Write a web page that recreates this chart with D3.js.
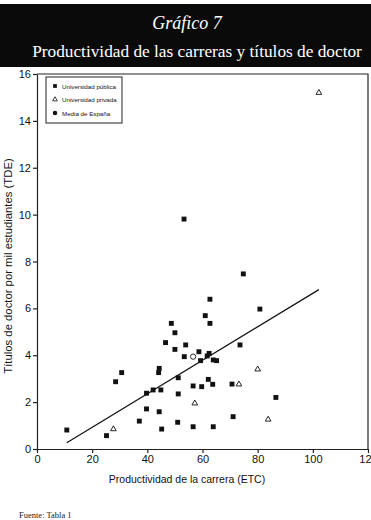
<!DOCTYPE html>
<html><head><meta charset="utf-8">
<script src="https://cdn.jsdelivr.net/npm/d3@7"></script>
<style>body{margin:0;background:#fff}svg{display:block}</style>
</head><body>
<svg id="c" width="371" height="520"></svg>
<script>
const titleTop = "Gráfico 7";
const titleMain = "Productividad de las carreras y títulos de doctor";
const xLabel = "Productividad de la carrera (ETC)";
const yLabel = "Títulos de doctor por mil estudiantes (TDE)";
const source = "Fuente: Tabla 1";
const legendLabels = ["Universidad pública", "Universidad privada", "Media de España"];
const xTicks = [0, 20, 40, 60, 80, 100, 120];
const yTicks = [0, 2, 4, 6, 8, 10, 12, 14, 16];

const publicX = [10.8,25.2,28.5,30.7,37.1,39.7,39.7,42.1,44.9,44.3,44.1,44.3,45.2,46.6,48.7,50.0,50.0,51.2,51.2,51.0,53.3,74.8,62.7,80.8,61.0,62.7,53.9,58.7,53.4,62.4,61.7,59.3,63.9,65.1,73.6,62.1,63.7,56.6,59.7,70.7,86.6,71.1,56.6,63.9];
const publicY = [0.81,0.57,2.87,3.26,1.19,2.38,1.71,2.52,2.52,3.44,3.26,1.59,0.85,4.54,5.36,4.96,4.25,3.04,2.35,1.14,9.81,7.47,6.39,5.97,5.69,5.36,4.44,4.15,3.94,4.08,3.97,3.77,3.80,3.77,4.44,2.97,2.76,2.69,2.66,2.77,2.20,1.38,0.95,0.95];
const privateX = [27.7,73.2,80.0,57.2,83.8,102.2];
const privateY = [0.85,2.76,3.40,1.95,1.26,15.2];
const meanX = [56.6];
const meanY = [3.94];
const trendX = [10.8, 102.2];
const trendY = [0.27, 6.80];

const svg = d3.select("#c");
// header band
svg.append("rect").attr("x",0).attr("y",4).attr("width",371).attr("height",63).attr("fill","#0a0a0a");
svg.append("text").text(titleTop).attr("x",187).attr("y",29).attr("text-anchor","middle")
  .attr("fill","#fff").attr("font-family","Liberation Serif, serif").attr("font-style","italic").attr("font-size",18);
const tm = svg.append("text").text(titleMain).attr("x",197).attr("y",57).attr("text-anchor","middle")
  .attr("fill","#fff").attr("font-family","Liberation Serif, serif").attr("font-size",18);
const w = tm.node().getComputedTextLength();
tm.attr("font-size", 18 * 330 / w);

const x = d3.scaleLinear().domain([0,120]).range([37,368]);
const y = d3.scaleLinear().domain([0,16]).range([449,74]);

const font = "Liberation Sans, Arial, sans-serif";
// frame
svg.append("path").attr("d",`M${x(0)},${y(16)}H${x(120)}V${y(0)}`).attr("fill","none").attr("stroke","#222").attr("stroke-width",1.2);

const xa = svg.append("g").attr("transform",`translate(0,${y(0)})`)
  .call(d3.axisBottom(x).tickValues(xTicks).tickSize(4).tickPadding(2).tickSizeOuter(0));
const ya = svg.append("g").attr("transform",`translate(${x(0)},0)`)
  .call(d3.axisLeft(y).tickValues(yTicks).tickSize(4).tickPadding(2).tickSizeOuter(0));
[xa,ya].forEach(a=>{
  a.selectAll("path,line").attr("stroke","#222").attr("stroke-width",1.2);
  a.selectAll("text").attr("font-family",font).attr("font-size",11).attr("fill","#111");
});

svg.append("text").text(xLabel).attr("x",187).attr("y",483).attr("text-anchor","middle")
  .attr("font-family",font).attr("font-size",10.5).attr("fill","#111");
svg.append("text").text(yLabel).attr("transform","translate(12,266) rotate(-90)").attr("text-anchor","middle")
  .attr("font-family",font).attr("font-size",11.3).attr("fill","#111");
svg.append("text").text(source).attr("x",19).attr("y",518)
  .attr("font-family","Liberation Serif, serif").attr("font-size",8.5).attr("fill","#222");

// trend line
svg.append("line").attr("x1",x(trendX[0])).attr("y1",y(trendY[0])).attr("x2",x(trendX[1])).attr("y2",y(trendY[1]))
  .attr("stroke","#111").attr("stroke-width",1.2);

const sq = d3.symbol().type(d3.symbolSquare).size(24);
const tri = d3.symbol().type(d3.symbolTriangle).size(14);
const circ = d3.symbol().type(d3.symbolCircle).size(22);

svg.append("g").selectAll("path").data(publicX.map((v,i)=>[v,publicY[i]])).join("path")
  .attr("d",sq).attr("transform",d=>`translate(${x(d[0])},${y(d[1])})`).attr("fill","#111");
svg.append("g").selectAll("path").data(privateX.map((v,i)=>[v,privateY[i]])).join("path")
  .attr("d",tri).attr("transform",d=>`translate(${x(d[0])},${y(d[1])})`).attr("fill","#fff").attr("stroke","#111").attr("stroke-width",0.9);
svg.append("g").selectAll("path").data(meanX.map((v,i)=>[v,meanY[i]])).join("path")
  .attr("d",circ).attr("transform",d=>`translate(${x(d[0])},${y(d[1])})`).attr("fill","#fff").attr("stroke","#111").attr("stroke-width",0.9);

// legend
const lg = svg.append("g");
lg.append("rect").attr("x",46).attr("y",77).attr("width",76).attr("height",46).attr("fill","#fff").attr("stroke","#222").attr("stroke-width",1);
const lsyms = [
  d3.symbol().type(d3.symbolSquare).size(14),
  d3.symbol().type(d3.symbolTriangle).size(10),
  d3.symbol().type(d3.symbolCircle).size(16)
];
legendLabels.forEach((t,i)=>{
  const cy = 86 + i*13.5;
  const p = lg.append("path").attr("d",lsyms[i]).attr("transform",`translate(55,${cy})`);
  if(i===1) p.attr("fill","#fff").attr("stroke","#111").attr("stroke-width",0.8); else p.attr("fill","#111");
  lg.append("text").text(t).attr("x",62).attr("y",cy+2.5).attr("font-family","Liberation Sans Narrow, Liberation Sans, sans-serif")
    .attr("font-size",6.2).attr("fill","#111");
});
</script>
</body></html>
